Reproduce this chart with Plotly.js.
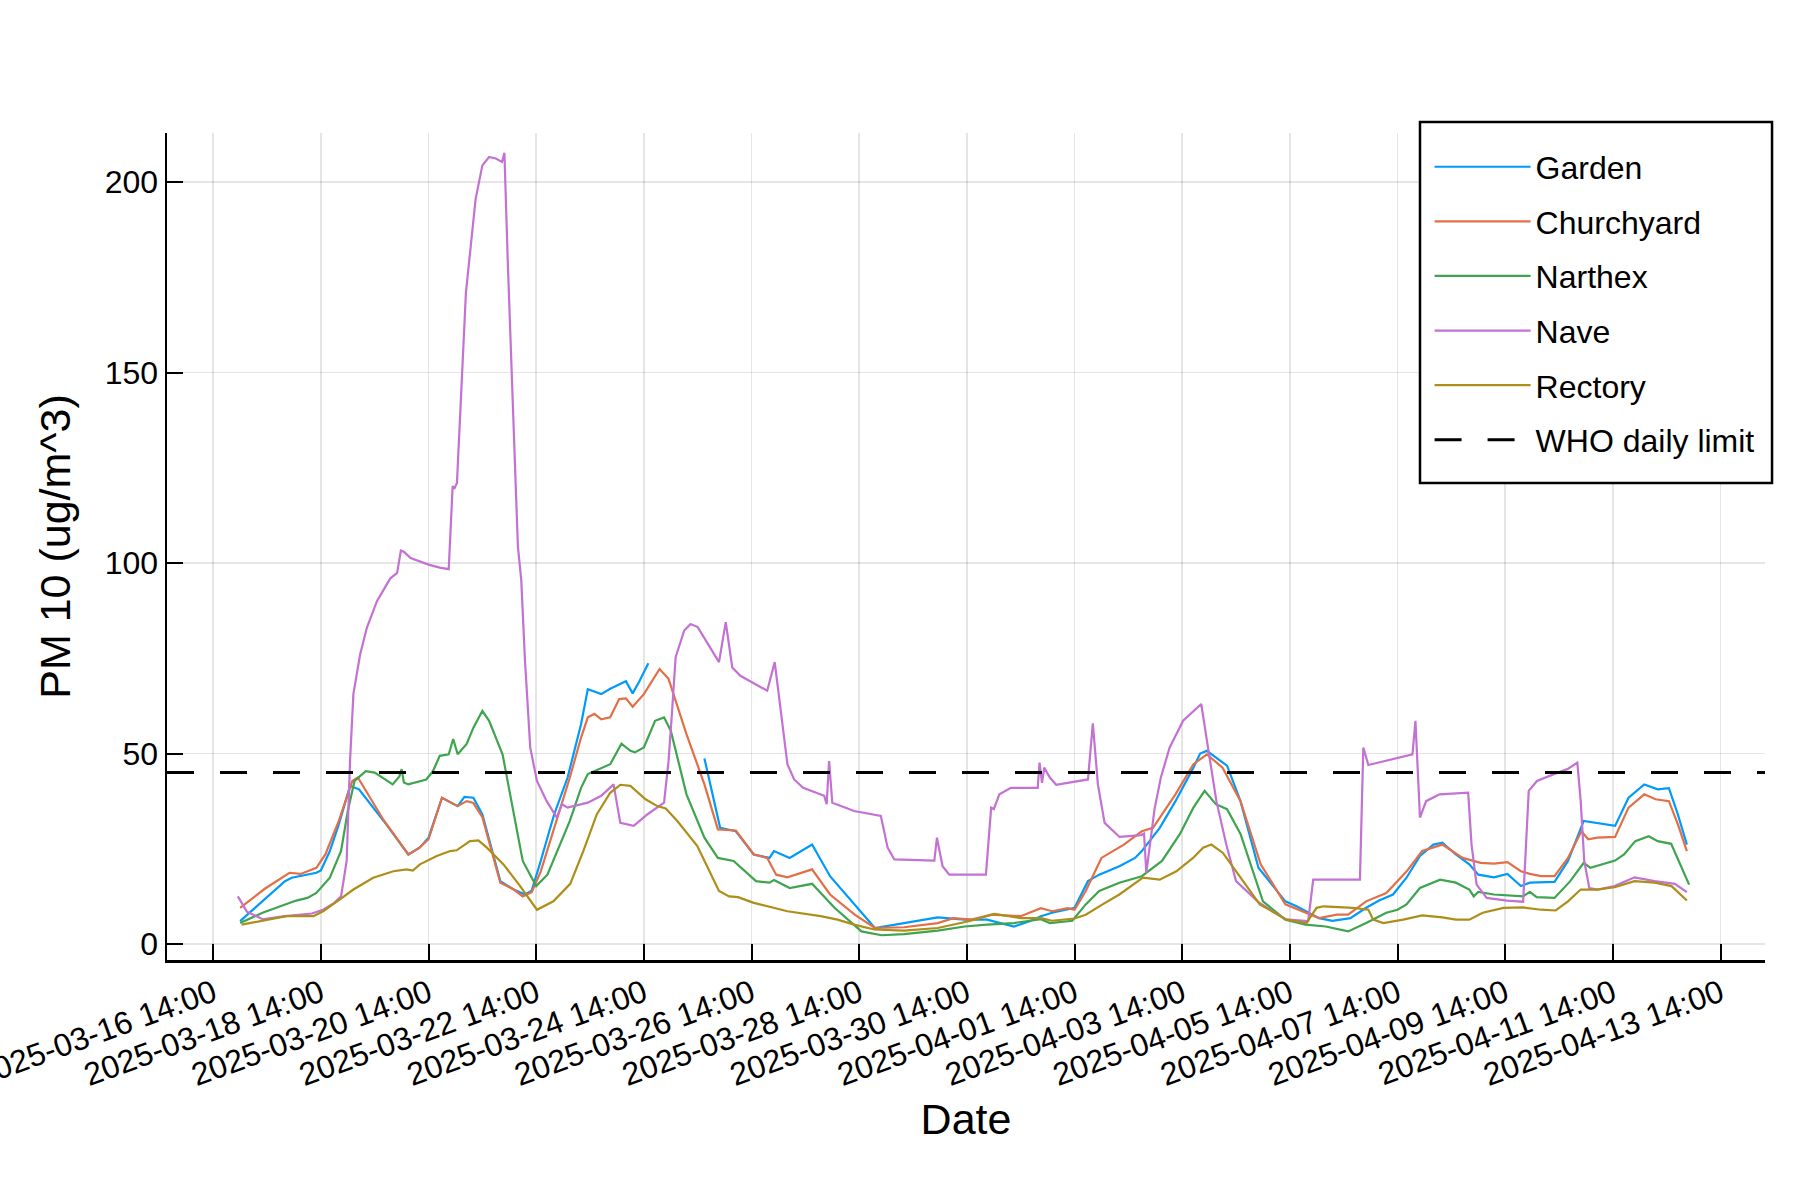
<!DOCTYPE html>
<html>
<head>
<meta charset="utf-8">
<script src="https://cdn.plot.ly/plotly-3.0.1.min.js"></script>
<style>html,body{margin:0;padding:0;background:#fff;}#chart{width:1800px;height:1200px;}</style>
</head>
<body>
<div id="chart"></div>
<script>
const year = "2025-";
const seriesNames = ["Garden", "Churchyard", "Narthex", "Nave", "Rectory"];
const seriesColors = ["#009AFA", "#E36F47", "#3EA44E", "#C371D2", "#AC8E18"];
const whoLimitName = "WHO daily limit";
const whoLimit = 45;
const yTicks = [0, 50, 100, 150, 200];

const gardenTime = ["03-17 02:00","03-17 12:00","03-17 22:00","03-18 01:00","03-18 12:00","03-18 14:00","03-18 18:00","03-18 22:00","03-19 03:00","03-19 07:00",
"03-19 18:00","03-20 05:00","03-20 10:00","03-20 14:00","03-20 20:00","03-21 03:00","03-21 06:00","03-21 10:00","03-21 14:00","03-21 22:00",
"03-22 04:00","03-22 09:00","03-22 12:00","03-22 16:00","03-22 22:00","03-23 04:00","03-23 10:00","03-23 13:00","03-23 19:00","03-23 23:00",
"03-24 06:00","03-24 09:00","03-24 12:00","03-24 16:00","03-25 04:00","03-25 17:00","03-26 00:00","03-26 07:00","03-26 15:00","03-26 22:00",
"03-27 00:00","03-27 07:00","03-27 17:00","03-28 01:00","03-28 12:00","03-28 21:00","03-29 10:00","03-30 01:00","03-30 13:00","03-30 23:00",
"03-31 11:00","03-31 18:00","03-31 23:00","04-01 04:00","04-01 14:00","04-01 20:00","04-02 01:00","04-02 10:00","04-02 17:00","04-02 20:00",
"04-03 04:00","04-03 11:00","04-03 19:00","04-03 22:00","04-04 01:00","04-04 06:00","04-04 10:00","04-04 16:00","04-05 00:00","04-05 06:00",
"04-05 12:00","04-05 17:00","04-05 21:00","04-06 03:00","04-06 09:00","04-06 17:00","04-07 00:00","04-07 06:00","04-07 12:00","04-07 18:00",
"04-08 00:00","04-08 06:00","04-08 10:00","04-08 16:00","04-08 22:00","04-09 02:00","04-09 09:00","04-09 15:00","04-09 21:00","04-10 01:00",
"04-10 12:00","04-10 18:00","04-11 01:00","04-11 07:00","04-11 15:00","04-11 21:00","04-12 04:00","04-12 10:00","04-12 15:00","04-12 19:00",
"04-12 23:00"];
const gardenPM10 = [6.0,11.2,16.5,17.4,18.7,19.3,24.4,31.4,41.5,40.6,
32.3,23.5,25.3,27.9,38.4,36.2,38.6,38.4,34.0,16.5,
14.3,13.0,14.0,21.8,34.0,43.7,57.7,66.9,65.6,67.0,
69.0,65.8,69.0,73.7,null,48.7,30.5,29.6,23.5,22.6,
24.4,22.6,26.1,17.8,10.4,4.2,5.5,7.0,6.4,6.4,
4.6,6.0,7.3,8.2,9.5,16.5,18.2,20.4,22.6,24.4,
30.5,37.5,46.3,50.0,50.7,48.5,46.8,37.5,20.0,15.6,
11.2,9.9,8.6,6.8,6.1,6.8,9.5,11.5,13.0,17.4,
23.1,26.1,26.6,23.5,20.9,18.2,17.5,18.4,15.2,16.1,
16.3,21.8,32.3,31.8,31.0,38.4,41.9,40.6,40.9,34.0,
26.1];

const churchyardTime = ["03-17 02:00","03-17 13:00","03-18 00:00","03-18 05:00","03-18 12:00","03-18 16:00","03-18 22:00","03-19 04:00","03-19 06:30","03-19 18:00",
"03-20 05:00","03-20 10:00","03-20 14:00","03-20 20:00","03-21 03:00","03-21 07:00","03-21 10:00","03-21 14:00","03-21 22:00","03-22 04:00",
"03-22 08:00","03-22 12:00","03-22 16:00","03-22 22:00","03-23 05:00","03-23 10:00","03-23 13:00","03-23 16:00","03-23 19:00","03-23 23:00",
"03-24 03:00","03-24 06:00","03-24 09:00","03-24 14:00","03-24 21:00","03-25 01:00","03-25 09:00","03-25 17:00","03-25 23:00","03-26 07:00",
"03-26 15:00","03-26 21:00","03-27 01:00","03-27 06:00","03-27 12:00","03-27 17:00","03-28 01:00","03-28 12:00","03-28 21:00","03-29 10:00",
"03-30 01:00","03-30 08:00","03-30 16:00","03-31 01:00","03-31 14:00","03-31 23:00","04-01 04:00","04-01 11:00","04-01 14:00","04-01 19:00",
"04-02 02:00","04-02 07:00","04-02 12:00","04-02 20:00","04-03 01:00","04-03 11:00","04-03 19:00","04-04 01:00","04-04 08:00","04-04 16:00",
"04-05 01:00","04-05 12:00","04-05 23:00","04-06 03:00","04-06 11:00","04-06 16:00","04-07 00:00","04-07 09:00","04-07 18:00","04-08 01:00",
"04-08 10:00","04-08 16:00","04-08 19:00","04-09 03:00","04-09 09:00","04-09 15:00","04-09 21:00","04-10 01:00","04-10 06:00","04-10 12:00",
"04-10 18:00","04-11 00:00","04-11 03:00","04-11 07:00","04-11 15:00","04-11 21:00","04-12 04:00","04-12 09:00","04-12 15:00","04-12 19:00",
"04-12 23:00"];
const churchyardPM10 = [9.5,14.5,18.7,18.4,20.0,23.5,32.3,42.8,43.7,32.5,
23.5,25.3,27.5,38.4,36.2,37.5,37.0,33.3,16.1,14.3,
12.5,13.6,19.0,30.5,43.7,54.2,59.5,60.4,59.0,59.5,
64.3,64.5,62.3,65.6,72.2,69.6,55.1,41.9,30.1,29.8,
23.5,22.6,18.2,17.5,18.7,19.6,13.0,7.7,4.2,4.4,
5.5,6.8,6.4,7.7,7.3,9.4,8.6,9.4,9.0,13.9,
22.6,24.4,26.1,29.6,30.5,39.3,47.2,49.8,46.3,37.5,
20.9,10.4,7.7,6.8,7.7,7.7,11.2,13.4,19.0,24.4,
26.1,23.9,22.6,21.3,21.1,21.5,19.1,18.4,17.8,17.8,
22.6,29.6,27.5,27.9,28.1,35.8,39.3,38.0,37.5,31.4,
24.4];

const narthexTime = ["03-17 02:00","03-17 12:00","03-18 03:00","03-18 08:00","03-18 12:00","03-18 18:00","03-18 23:00","03-19 02:00","03-19 05:00","03-19 10:00",
"03-19 14:00","03-19 22:00","03-20 01:00","03-20 02:00","03-20 03:00","03-20 05:00","03-20 13:00","03-20 16:00","03-20 19:00","03-20 23:00",
"03-21 01:00","03-21 03:00","03-21 07:00","03-21 10:00","03-21 14:00","03-21 17:00","03-21 23:00","03-22 04:00","03-22 08:00","03-22 14:00",
"03-22 19:00","03-23 05:00","03-23 10:00","03-23 13:00","03-23 16:00","03-23 23:00","03-24 04:00","03-24 08:00","03-24 10:00","03-24 14:00",
"03-24 19:00","03-24 23:00","03-25 02:00","03-25 09:00","03-25 17:00","03-25 23:00","03-26 06:00","03-26 16:00","03-26 22:00","03-27 00:00",
"03-27 07:00","03-27 17:00","03-28 03:00","03-28 15:00","03-29 00:00","03-29 10:00","03-30 01:00","03-30 13:00","03-30 23:00","03-31 11:00",
"03-31 23:00","04-01 03:00","04-01 13:00","04-01 19:00","04-02 01:00","04-02 10:00","04-02 20:00","04-03 05:00","04-03 13:00","04-03 19:00",
"04-04 00:00","04-04 05:00","04-04 10:00","04-04 16:00","04-05 02:00","04-05 12:00","04-05 21:00","04-06 06:00","04-06 16:00","04-07 00:00",
"04-07 09:00","04-07 14:00","04-07 18:00","04-08 00:00","04-08 09:00","04-08 16:00","04-08 22:00","04-09 00:00","04-09 02:00","04-09 09:00",
"04-09 22:00","04-10 01:00","04-10 04:00","04-10 12:00","04-10 19:00","04-11 01:00","04-11 04:00","04-11 15:00","04-11 19:00","04-12 00:00",
"04-12 06:00","04-12 10:00","04-12 16:00","04-13 00:00"];
const narthexPM10 = [5.5,8.2,11.4,12.1,13.4,17.4,24.4,34.9,42.8,45.4,
45.0,41.9,44.0,45.9,42.4,41.9,43.2,45.4,49.4,49.8,
53.8,49.8,52.5,56.8,61.2,58.6,49.8,34.0,21.8,15.2,
18.2,32.3,41.0,44.6,45.4,47.2,52.6,50.7,50.3,51.6,
58.6,59.5,56.0,39.3,27.9,22.6,21.8,16.5,16.1,16.8,
14.7,15.8,9.5,3.3,2.3,2.6,3.5,4.6,5.1,5.5,
6.5,5.5,6.1,10.4,13.9,16.1,17.8,21.8,28.9,35.8,
40.2,36.7,35.4,28.9,11.2,6.4,5.1,4.6,3.3,5.5,
8.2,9.0,10.4,14.7,16.9,16.1,14.3,12.5,13.7,13.0,
12.5,13.7,12.3,12.1,16.5,21.3,20.0,21.9,23.5,27.0,
28.3,27.0,26.3,15.6];

const naveTime = ["03-17 01:00","03-17 05:00","03-17 12:00","03-17 22:00","03-18 10:00","03-18 15:00","03-18 20:00","03-18 23:00","03-19 01:30","03-19 03:00",
"03-19 04:30","03-19 07:30","03-19 10:30","03-19 15:00","03-19 19:00","03-19 21:00","03-20 00:00","03-20 01:40","03-20 03:00","03-20 06:00",
"03-20 14:00","03-20 19:00","03-20 23:00","03-21 00:45","03-21 01:30","03-21 02:40","03-21 04:30","03-21 06:40","03-21 11:00","03-21 14:00",
"03-21 17:00","03-21 20:00","03-21 22:45","03-21 23:50","03-22 01:20","03-22 02:50","03-22 04:20","03-22 05:50","03-22 07:20","03-22 09:00",
"03-22 11:20","03-22 14:20","03-22 18:40","03-22 21:40","03-22 23:10","03-23 01:30","03-23 04:00","03-23 13:00","03-23 19:00","03-24 00:30",
"03-24 03:30","03-24 09:30","03-24 15:30","03-24 23:00","03-25 01:00","03-25 02:30","03-25 04:10","03-25 08:00","03-25 10:50","03-25 14:00",
"03-25 23:30","03-26 02:30","03-26 05:25","03-26 09:00","03-26 21:00","03-27 00:20","03-27 06:00","03-27 09:00","03-27 13:00","03-27 22:25",
"03-27 23:30","03-28 00:35","03-28 02:00","03-28 11:45","03-28 23:40","03-29 02:40","03-29 05:40","03-29 23:30","03-30 00:40","03-30 03:10",
"03-30 06:10","03-30 22:30","03-31 00:50","03-31 02:00","03-31 04:30","03-31 09:40","03-31 21:35","03-31 22:25","03-31 23:30","04-01 00:30",
"04-01 03:00","04-01 05:50","04-01 14:00","04-01 20:00","04-01 22:10","04-02 00:25","04-02 03:25","04-02 10:05","04-02 19:45","04-02 21:00",
"04-02 22:00","04-03 01:40","04-03 04:30","04-03 08:25","04-03 14:25","04-03 22:30","04-04 01:30","04-04 05:15","04-04 09:40","04-04 14:00",
"04-05 00:00","04-05 12:00","04-05 22:10","04-06 00:25","04-06 21:15","04-06 22:45","04-07 01:00","04-07 20:40","04-07 22:00","04-08 00:00",
"04-08 02:45","04-08 08:45","04-08 21:30","04-08 23:00","04-09 01:15","04-09 05:45","04-09 14:45","04-09 22:00","04-10 00:30","04-10 04:10",
"04-10 11:45","04-10 17:45","04-10 22:10","04-10 23:40","04-11 01:15","04-11 03:30","04-11 07:15","04-11 14:45","04-11 23:40","04-12 08:40",
"04-12 17:40","04-12 23:00"];
const navePM10 = [12.5,8.5,6.5,7.3,8.0,9.0,10.8,12.5,21.8,48.0,
65.6,76.0,83.0,90.0,94.0,96.0,97.4,103.3,103.0,101.3,
99.6,98.8,98.4,120.2,119.5,121.0,143.9,171.0,195.6,204.4,
206.6,206.2,205.3,207.7,179.0,152.6,126.3,104.4,95.6,74.4,
51.6,42.8,37.5,34.5,33.2,36.7,35.8,37.1,38.9,41.9,
31.8,31.0,34.0,37.1,48.0,60.4,75.3,82.3,84.0,83.2,
74.0,84.5,72.6,70.4,66.5,74.0,47.2,43.2,41.0,38.9,
36.7,48.0,37.1,34.9,33.6,25.3,22.2,21.9,27.9,20.4,
18.2,18.2,35.8,35.4,39.3,41.0,41.0,47.6,42.3,46.3,
43.7,41.8,42.6,43.2,57.9,41.9,31.8,28.1,28.6,29.0,
18.7,35.4,43.7,51.6,58.6,63.0,51.6,37.5,26.1,16.5,
11.0,6.5,6.0,16.9,16.9,51.6,47.0,49.8,58.6,33.2,
37.5,39.3,39.7,26.1,15.6,12.1,11.4,11.1,40.2,42.8,
44.6,45.9,47.6,37.5,21.8,14.7,14.3,15.2,17.5,16.5,
15.8,13.6];

const rectoryTime = ["03-17 02:40","03-17 12:20","03-17 22:40","03-18 10:40","03-18 15:00","03-18 22:30","03-19 04:30","03-19 13:20","03-19 22:20","03-20 04:15",
"03-20 07:00","03-20 10:10","03-20 17:40","03-20 23:40","03-21 02:30","03-21 08:30","03-21 12:15","03-21 16:00","03-21 23:25","03-22 06:50",
"03-22 14:20","03-22 21:40","03-23 05:10","03-23 11:00","03-23 17:00","03-23 23:00","03-24 03:30","03-24 08:00","03-24 14:45","03-24 20:00",
"03-24 23:45","03-25 04:55","03-25 13:50","03-25 23:30","03-26 04:00","03-26 08:00","03-26 15:00","03-27 06:00","03-27 20:50","03-28 04:20",
"03-28 11:45","03-28 20:40","03-29 10:00","03-30 01:00","03-30 15:50","03-31 02:15","03-31 14:00","03-31 23:00","04-01 04:00","04-01 14:00",
"04-01 19:00","04-02 02:30","04-02 10:00","04-02 20:30","04-03 04:00","04-03 11:25","04-03 18:50","04-03 23:20","04-04 03:00","04-04 08:10",
"04-04 15:40","04-05 00:35","04-05 12:30","04-05 21:25","04-06 01:55","04-06 05:00","04-06 18:15","04-07 01:00","04-07 03:10","04-07 07:40",
"04-07 16:35","04-08 01:00","04-08 10:00","04-08 16:00","04-08 22:00","04-09 04:00","04-09 13:15","04-09 22:00","04-10 06:00","04-10 12:30",
"04-10 18:00","04-10 23:40","04-11 07:00","04-11 14:45","04-11 23:40","04-12 08:40","04-12 16:10","04-12 23:00"];
const rectoryPM10 = [5.1,6.1,7.3,7.3,8.6,11.7,14.3,17.4,19.1,19.6,
19.3,20.9,23.1,24.4,24.6,27.0,27.2,25.3,20.9,15.2,
9.0,11.2,15.8,24.4,34.0,39.7,41.8,41.5,38.0,36.2,
35.6,32.3,25.7,13.9,12.5,12.3,10.8,8.6,7.3,6.4,
5.1,3.8,3.5,4.2,6.1,7.9,6.8,6.8,6.1,6.7,
7.7,10.4,13.0,17.4,16.9,19.1,22.6,25.3,26.1,23.9,
17.8,10.4,6.4,5.5,9.5,9.9,9.5,9.0,6.4,5.5,
6.4,7.5,7.0,6.4,6.4,8.2,9.5,9.6,9.0,8.8,
11.2,14.3,14.3,14.9,16.5,16.1,15.2,11.4];

const xRange = ["2025-03-15 17:24", "2025-04-14 09:50"];
const tickStart = "2025-03-16 14:00";

const seriesTimes = [gardenTime, churchyardTime, narthexTime, naveTime, rectoryTime];
const seriesValues = [gardenPM10, churchyardPM10, narthexPM10, navePM10, rectoryPM10];

const traces = seriesNames.map((name, i) => ({
  type: "scatter",
  mode: "lines",
  name: name,
  legendgroup: name,
  x: seriesTimes[i].map(t => year + t),
  y: seriesValues[i],
  line: {color: seriesColors[i], width: 2.2},
  connectgaps: false,
  hoverinfo: "skip"
}));
traces.push({
  type: "scatter",
  mode: "lines",
  name: whoLimitName,
  legendgroup: whoLimitName,
  x: xRange,
  y: [whoLimit, whoLimit],
  line: {color: "black", width: 3, dash: "27px,26px"},
  hoverinfo: "skip"
});

const fontFamily = "Liberation Sans, Arial, Helvetica, sans-serif";
const layout = {
  width: 1800,
  height: 1200,
  margin: {l: 167, r: 35, t: 133, b: 240},
  paper_bgcolor: "white",
  plot_bgcolor: "white",
  font: {family: fontFamily, color: "black", size: 32},
  showlegend: true,
  xaxis: {
    type: "date",
    range: xRange,
    tick0: tickStart,
    dtick: 2 * 86400000,
    tickformat: "%Y-%m-%d %H:%M",
    tickangle: -20,
    ticklabeloverflow: "allow",
    ticks: "inside",
    ticklen: 16,
    tickwidth: 2,
    tickcolor: "black",
    showline: true,
    linecolor: "black",
    linewidth: 2.5,
    showgrid: true,
    gridcolor: "rgba(0,0,0,0.1)",
    gridwidth: 1.5,
    zeroline: false,
    tickfont: {size: 32, color: "black"},
    title: {text: "Date", font: {size: 43, color: "black"}}
  },
  yaxis: {
    range: [-4.2, 212.9],
    tickvals: yTicks,
    ticks: "inside",
    ticklen: 16,
    tickwidth: 2,
    tickcolor: "black",
    showline: true,
    linecolor: "black",
    linewidth: 2.5,
    showgrid: true,
    gridcolor: "rgba(0,0,0,0.1)",
    gridwidth: 1.5,
    zeroline: false,
    tickfont: {size: 32, color: "black"},
    title: {text: "PM 10 (ug/m^3)", font: {size: 43, color: "black"}}
  },
  legend: {
    x: 0.7901,
    xanchor: "left",
    y: 0.9922,
    yanchor: "top",
    bgcolor: "rgba(0,0,0,0)",
    borderwidth: 0,
    font: {size: 32, color: "black", family: fontFamily},
    tracegroupgap: 10,
    itemwidth: 96
  },
  shapes: [{
    type: "rect",
    xref: "paper", yref: "paper",
    x0: 0.7841, x1: 1.0044, y0: 0.5768, y1: 1.0133,
    line: {color: "black", width: 2.5},
    fillcolor: "white",
    layer: "above"
  }]
};

Plotly.newPlot("chart", traces, layout, {displayModeBar: false, staticPlot: true});
</script>
</body>
</html>
